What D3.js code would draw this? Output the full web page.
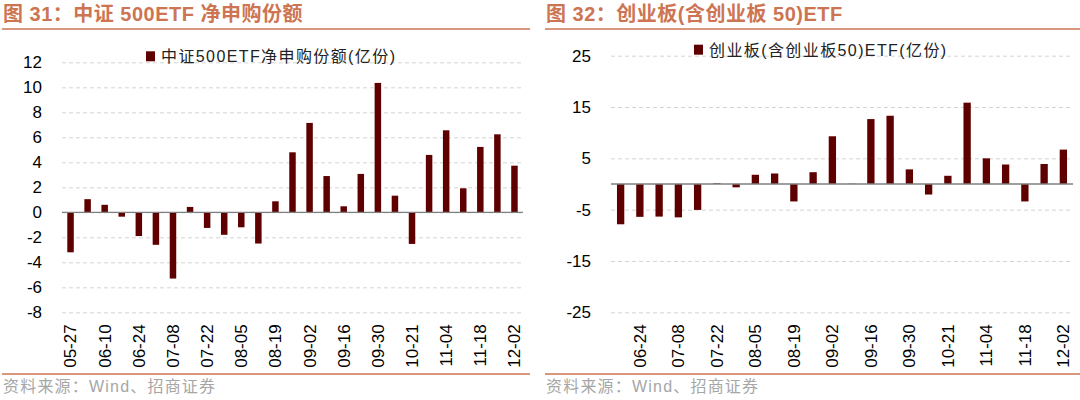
<!DOCTYPE html>
<html>
<head>
<meta charset="utf-8">
<script src="https://cdn.jsdelivr.net/npm/d3@7"></script>
<style>
  body { margin: 0; background: #fff; }
  svg { font-family: "Liberation Sans", Arial, "Noto Sans CJK SC", sans-serif; }
</style>
</head>
<body>
<div id="chart"></div>
<script>
// Left chart: weekly net subscriptions, CSI 500 ETF (100m units)
const leftDates = ["05-27", "06-03", "06-10", "06-17", "06-24", "07-01", "07-08", "07-15", "07-22",
  "07-29", "08-05", "08-12", "08-19", "08-26", "09-02", "09-09", "09-16", "09-23", "09-30",
  "10-14", "10-21", "10-28", "11-04", "11-11", "11-18", "11-25", "12-02"];
const leftValues = [-3.2, 1.05, 0.6, -0.35, -1.9, -2.6, -5.3, 0.43, -1.25, -1.8, -1.2, -2.5, 0.88,
  4.8, 7.15, 2.9, 0.48, 3.07, 10.35, 1.33, -2.53, 4.59, 6.56, 1.92, 5.23, 6.24, 3.73];
const leftTicks = [12, 10, 8, 6, 4, 2, 0, -2, -4, -6, -8];

// Right chart: ChiNext (incl. ChiNext 50) ETF
const rightDates = ["06-17", "06-24", "07-01", "07-08", "07-15", "07-22", "07-29", "08-05", "08-12",
  "08-19", "08-26", "09-02", "09-09", "09-16", "09-23", "09-30", "10-14", "10-21", "10-28",
  "11-04", "11-11", "11-18", "11-25", "12-02"];
const rightValues = [-7.85, -6.4, -6.35, -6.5, -5.05, 0.13, -0.65, 1.8, 2.05, -3.4, 2.3, 9.3, 0.05,
  12.65, 13.3, 2.85, -2.05, 1.6, 15.85, 5.0, 3.8, -3.4, 3.9, 6.7];
const rightTicks = [25, 15, 5, -5, -15, -25];

const svg = d3.select("#chart").append("svg")
  .attr("width", 1080)
  .attr("height", 400);

const orange = "#cd7552";
const barColor = "#5e0000";

function barPanel(opt) {
  const g = svg.append("g");

  // title and the rules above and below the panel
  g.append("text")
    .attr("x", opt.x0 + 3)
    .attr("y", 21)
    .attr("fill", orange)
    .attr("font-size", 20)
    .attr("font-weight", "bold")
    .attr("letter-spacing", 0.5)
    .text(opt.title);
  g.append("line")
    .attr("x1", opt.x0 + 2).attr("x2", opt.x1)
    .attr("y1", 29).attr("y2", 29)
    .attr("stroke", orange).attr("stroke-width", 1.5);
  g.append("line")
    .attr("x1", opt.x0 + 2).attr("x2", opt.x1)
    .attr("y1", 374).attr("y2", 374)
    .attr("stroke", orange).attr("stroke-width", 1.5);
  g.append("text")
    .attr("x", opt.x0 + 3)
    .attr("y", 392)
    .attr("fill", "#a6a6a6")
    .attr("font-size", 16)
    .attr("letter-spacing", 1.2)
    .text("资料来源：Wind、招商证券");

  const x = d3.scaleBand()
    .domain(opt.dates)
    .range([opt.plotLeft, opt.plotRight])
    .paddingInner(0.62)
    .paddingOuter(0.31);

  const y = d3.scaleLinear()
    .domain(opt.domain)
    .range([opt.bottom, opt.top]);

  // dashed grid lines with tick labels (plain hyphen for negatives)
  const yAxis = g.append("g")
    .attr("transform", `translate(${opt.plotLeft},0)`)
    .call(d3.axisLeft(y)
      .tickValues(opt.ticks)
      .tickFormat(d => String(d))
      .tickSize(-(opt.plotRight - opt.plotLeft))
      .tickPadding(20));
  yAxis.select(".domain").remove();
  yAxis.selectAll(".tick line")
    .attr("stroke", "#d4d4d4")
    .attr("stroke-dasharray", "4,3");
  yAxis.selectAll(".tick text")
    .attr("font-size", 17)
    .attr("fill", "#000")
    .attr("font-family", "'Liberation Sans', Arial, sans-serif");

  // bars
  g.selectAll(".bar")
    .data(opt.values)
    .enter().append("rect")
    .attr("class", "bar")
    .attr("x", (d, i) => x(opt.dates[i]))
    .attr("width", x.bandwidth())
    .attr("y", d => y(Math.max(0, d)))
    .attr("height", d => Math.abs(y(d) - y(0)))
    .attr("fill", barColor);

  // zero line
  g.append("line")
    .attr("x1", opt.plotLeft).attr("x2", opt.plotRight)
    .attr("y1", y(0)).attr("y2", y(0))
    .attr("stroke", "#7f7f7f").attr("stroke-width", 1.3);

  // rotated date labels, every second week
  const xAxis = g.append("g")
    .attr("transform", `translate(0,${opt.bottom})`)
    .call(d3.axisBottom(x).tickValues(opt.dates.filter((d, i) => i % 2 === opt.labelOffset)).tickSize(0));
  xAxis.select(".domain").remove();
  xAxis.selectAll(".tick text")
    .attr("font-size", 17)
    .attr("fill", "#000")
    .attr("font-family", "'Liberation Sans', Arial, sans-serif")
    .attr("transform", "rotate(-90)")
    .attr("text-anchor", "end")
    .attr("x", -12)
    .attr("y", 0)
    .attr("dy", "0.35em");

  // legend
  g.append("rect")
    .attr("x", opt.legendX).attr("y", opt.top - 11)
    .attr("width", 9).attr("height", 10)
    .attr("fill", barColor);
  g.append("text")
    .attr("x", opt.legendX + 15)
    .attr("y", opt.top)
    .attr("fill", "#222")
    .attr("font-size", 16)
    .attr("letter-spacing", 1.4)
    .text(opt.legend);
}

barPanel({
  x0: 0, x1: 530,
  title: "图 31：中证 500ETF 净申购份额",
  legend: "中证500ETF净申购份额(亿份)",
  dates: leftDates, values: leftValues, ticks: leftTicks,
  domain: [-8, 12],
  plotLeft: 62, plotRight: 523, top: 62.3, bottom: 312.3,
  legendX: 146, labelOffset: 0
});

barPanel({
  x0: 543, x1: 1080,
  title: "图 32：创业板(含创业板 50)ETF",
  legend: "创业板(含创业板50)ETF(亿份)",
  dates: rightDates, values: rightValues, ticks: rightTicks,
  domain: [-25, 25],
  plotLeft: 611, plotRight: 1073, top: 55.7, bottom: 312.3,
  legendX: 694, labelOffset: 1
});
</script>
</body>
</html>
